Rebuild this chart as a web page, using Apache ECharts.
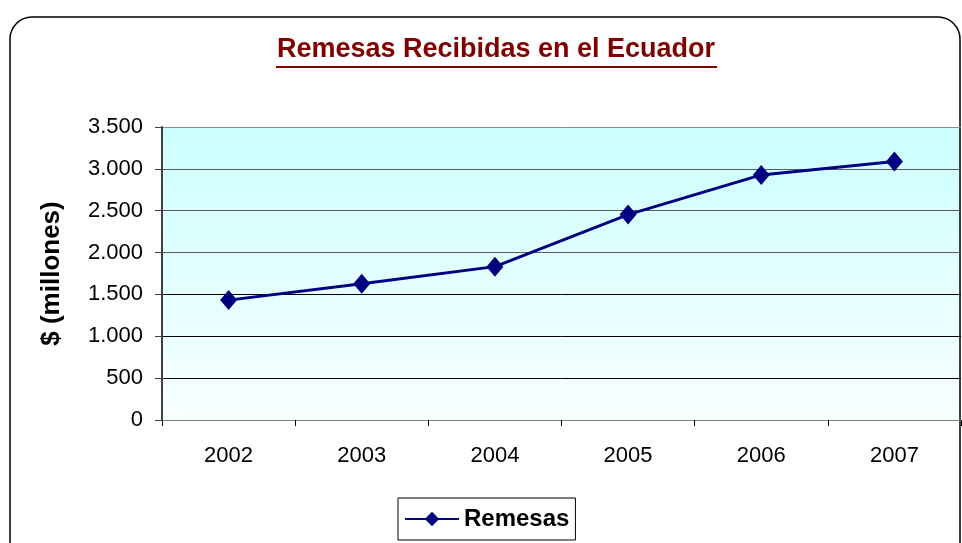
<!DOCTYPE html>
<html>
<head>
<meta charset="utf-8">
<script src="https://cdn.jsdelivr.net/npm/echarts@6/dist/echarts.min.js"></script>
<style>
  html, body { margin: 0; padding: 0; background: #fff; }
  #chart { width: 962px; height: 543px; }
</style>
</head>
<body>
<div id="chart"></div>
<script>
// datos
var years = ['2002', '2003', '2004', '2005', '2006', '2007'];
var remesas = [1432, 1627, 1832, 2454, 2928, 3088];

function fmtMiles(v) {
    return String(v).replace(/\B(?=(\d{3})+(?!\d))/g, '.');
}

var myChart = echarts.init(document.getElementById('chart'));

var option = {
    backgroundColor: '#fff',
    animation: false,
    textStyle: { fontFamily: 'Liberation Sans, Arial, sans-serif' },
    graphic: [
        {
            type: 'rect',
            shape: { x: 10, y: 17, width: 950, height: 560, r: 22 },
            style: { fill: 'none', stroke: '#000', lineWidth: 1.5 },
            z: 0
        },
        {
            type: 'text',
            x: 496,
            y: 36,
            style: {
                text: 'Remesas Recibidas en el Ecuador',
                fill: '#800000',
                align: 'center',
                font: 'bold 27px "Liberation Sans", Arial, sans-serif'
            }
        },
        {
            type: 'line',
            shape: { x1: 276, y1: 67, x2: 717, y2: 67 },
            style: { stroke: '#800000', lineWidth: 2 }
        }
    ],
    grid: {
        left: 162,
        right: 1,
        top: 127,
        bottom: 123,
        show: true,
        borderWidth: 0,
        backgroundColor: {
            type: 'linear', x: 0, y: 0, x2: 0, y2: 1,
            colorStops: [
                { offset: 0, color: '#ccffff' },
                { offset: 1, color: '#f8ffff' }
            ]
        }
    },
    legend: {
        bottom: 3,
        left: 398,
        data: ['Remesas'],
        itemWidth: 54,
        itemHeight: 18,
        itemGap: 4,
        padding: [9, 6, 9, 6],
        borderColor: '#000',
        borderWidth: 1,
        borderRadius: 0,
        textStyle: { fontSize: 24, fontWeight: 'bold', color: '#000' }
    },
    xAxis: {
        type: 'category',
        data: years,
        boundaryGap: true,
        axisLine: { lineStyle: { color: '#808080', width: 1 } },
        axisTick: { show: true, length: 6, inside: false, lineStyle: { color: '#000' } },
        axisLabel: { fontSize: 22, color: '#000', margin: 25 },
        splitLine: { show: false }
    },
    yAxis: {
        type: 'value',
        min: 0,
        max: 3500,
        interval: 500,
        name: '$ (millones)',
        nameLocation: 'middle',
        nameGap: 97,
        nameTextStyle: { fontSize: 26, fontWeight: 'bold', color: '#000' },
        axisLine: { show: true, lineStyle: { color: '#404040', width: 2 } },
        axisTick: { show: true, length: 7, lineStyle: { color: '#404040' } },
        axisLabel: {
            fontSize: 22,
            color: '#000',
            margin: 19,
            formatter: fmtMiles
        },
        splitLine: {
            show: true,
            lineStyle: {
                color: ['#000', '#000', '#000', '#000', '#5a5a5a', '#5a5a5a', '#5a5a5a', '#8a8a8a'],
                width: 1
            }
        }
    },
    series: [{
        name: 'Remesas',
        type: 'line',
        data: remesas,
        symbol: 'diamond',
        symbolSize: [17, 20],
        lineStyle: { color: '#000080', width: 3 },
        itemStyle: { color: '#000080' }
    }]
};

myChart.setOption(option);
</script>
</body>
</html>
